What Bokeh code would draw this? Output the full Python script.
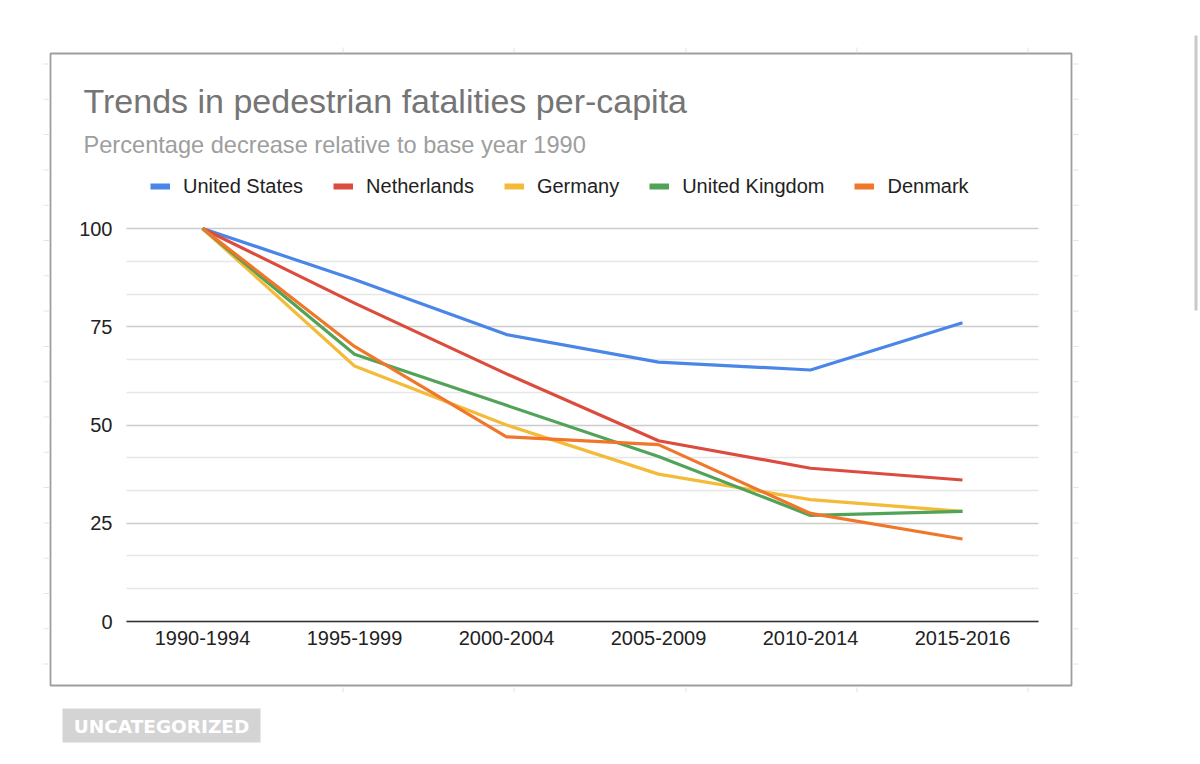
from bokeh.plotting import figure
from bokeh.models import (Range1d, FixedTicker, Legend, LegendItem, LinearAxis, Grid,
                          Label, BoxAnnotation, ColumnDataSource)
from bokeh.embed import file_html
from bokeh.resources import INLINE

# ---------------- data ----------------
periods = ["1990-1994", "1995-1999", "2000-2004", "2005-2009", "2010-2014", "2015-2016"]
united_states = [100, 87, 73, 66, 64, 76]
netherlands = [100, 81, 63, 46, 39, 36]
germany = [100, 65, 50, 37.5, 31, 28]
united_kingdom = [100, 68, 55, 42, 27, 28]
denmark = [100, 70, 47, 45, 27.5, 21]
y_ticks = [0, 25, 50, 75, 100]
y_minor_ticks = [8.33, 16.67, 33.33, 41.67, 58.33, 66.67, 83.33, 91.67]

series_names = ["United States", "Netherlands", "Germany", "United Kingdom", "Denmark"]
series_values = [united_states, netherlands, germany, united_kingdom, denmark]
series_colors = ["#4a86e8", "#db4c3f", "#f4bb39", "#51a457", "#f0762a"]

title_text = "Trends in pedestrian fatalities per-capita"
subtitle_text = "Percentage decrease relative to base year 1990"
tag_text = "UNCATEGORIZED"

FONT = "Liberation Sans"

# category positions: centre of each category slot
x_pos = [i + 0.5 for i in range(len(periods))]
n_cat = len(periods)

# ---------------- layout geometry (canvas pixels) ----------------
W, H = 1198, 746
DL, DR, DT, DB = 126, 1038, 228, 621        # data region left/right/top/bottom
ppx = (DR - DL) / n_cat                      # px per category
ppy = (DB - DT) / (y_ticks[-1] - y_ticks[0])  # px per y unit

x_range = Range1d(-DL / ppx, n_cat + (W - DR) / ppx)
y_range = Range1d(y_ticks[0] - (H - DB) / ppy, y_ticks[-1] + DT / ppy)

p = figure(width=W, height=H, x_range=x_range, y_range=y_range,
           output_backend="svg", toolbar_location=None,
           x_axis_location=None, y_axis_location=None,
           min_border_left=0, min_border_right=0, min_border_top=0, min_border_bottom=0)
p.outline_line_color = None
p.background_fill_color = "white"
p.border_fill_color = "white"
p.xgrid.visible = False
p.ygrid.visible = False

# axes drawn at fixed data locations inside the frame
yaxis = LinearAxis(fixed_location=0, bounds=(y_ticks[0], y_ticks[-1]),
                   ticker=FixedTicker(ticks=y_ticks, minor_ticks=y_minor_ticks))
yaxis.axis_line_color = None
yaxis.major_tick_line_color = None
yaxis.minor_tick_line_color = None
yaxis.major_label_standoff = 8
yaxis.major_label_text_font = FONT
yaxis.major_label_text_font_size = "20px"
yaxis.major_label_text_color = "#222222"
p.add_layout(yaxis, "left")

xaxis = LinearAxis(fixed_location=y_ticks[0], bounds=(0, n_cat),
                   ticker=FixedTicker(ticks=x_pos, minor_ticks=[]),
                   major_label_overrides={x: lab for x, lab in zip(x_pos, periods)})
xaxis.axis_line_color = "#333333"
xaxis.axis_line_width = 1.5
xaxis.major_tick_line_color = None
xaxis.minor_tick_line_color = None
xaxis.major_tick_out = 0
xaxis.major_tick_in = 0
xaxis.major_label_standoff = 9
xaxis.major_label_text_font = FONT
xaxis.major_label_text_font_size = "20px"
xaxis.major_label_text_color = "#222222"
p.add_layout(xaxis, "below")

# horizontal gridlines, limited to the data region
gprops = Grid.properties()
if "cross_bounds" in gprops:
    g = Grid(dimension=1, ticker=yaxis.ticker, bounds=(y_ticks[0], y_ticks[-1]),
             cross_bounds=(0, n_cat),
             grid_line_color="#cccccc", grid_line_width=1.3,
             minor_grid_line_color="#e6e6e6", minor_grid_line_width=1.3)
    p.add_layout(g)
else:
    p.segment(x0=[0] * len(y_minor_ticks), x1=[n_cat] * len(y_minor_ticks),
              y0=y_minor_ticks, y1=y_minor_ticks, line_color="#e6e6e6", line_width=1.3)
    p.segment(x0=[0] * len(y_ticks), x1=[n_cat] * len(y_ticks),
              y0=y_ticks, y1=y_ticks, line_color="#cccccc", line_width=1.3)

# lines
nan = float("nan")
legend_items = []
for name, vals, col in zip(series_names, series_values, series_colors):
    src = ColumnDataSource(dict(x=x_pos, y=vals))
    p.line("x", "y", source=src, line_color=col, line_width=3.2, line_join="round")
    # legend-only swatch renderer (draws nothing in the plot itself)
    swatch = p.line(x=[nan], y=[nan], line_color=col, line_width=6, line_cap="butt")
    legend_items.append(LegendItem(label=name, renderers=[swatch], index=0))

# frame == canvas, so screen units are canvas px (y measured up from bottom)
def sx(px):
    return px

def sy(py):
    return H - py

legend = Legend(items=legend_items, orientation="horizontal", location=(sx(150), sy(197.5)),
                glyph_width=20, glyph_height=20, label_standoff=13, spacing=30,
                padding=0, margin=0, border_line_color=None, background_fill_alpha=0,
                label_text_font=FONT, label_text_font_size="20px",
                label_text_color="#222222", label_height=20)
p.add_layout(legend)

def box(l, r, t, b, **kw):
    return BoxAnnotation(left=sx(l), right=sx(r), top=sy(t), bottom=sy(b),
                         left_units="screen", right_units="screen",
                         top_units="screen", bottom_units="screen", **kw)

# titles
p.add_layout(Label(x=sx(83), y=sy(100), x_units="screen", y_units="screen",
                   text=title_text, text_font=FONT, text_font_size="34px",
                   text_color="#757575", text_baseline="alphabetic"))
p.add_layout(Label(x=sx(83), y=sy(144.5), x_units="screen", y_units="screen",
                   text=subtitle_text, text_font=FONT, text_font_size="23.6px",
                   text_color="#9e9e9e", text_baseline="alphabetic"))

# chart card border
p.add_layout(box(50, 1071, 53, 685, fill_alpha=0, line_color="#9e9e9e", line_alpha=1,
                 line_width=1.8))

# faint page marks around the card
for mx in [342, 513, 685, 856, 1027]:
    for (y0, y1) in [(687, 692), (47, 52)]:
        p.add_layout(box(mx, mx + 1, y0, y1, fill_color="#e4e4e4", fill_alpha=1, line_alpha=0))
k = 0
while 63 + 35.3 * k < 684:
    my = 63 + 35.3 * k
    for (x0, x1) in [(43, 49), (1072, 1078)]:
        p.add_layout(box(x0, x1, my, my + 1, fill_color="#e4e4e4", fill_alpha=1, line_alpha=0))
    k += 1

# scrollbar-like line at right
p.add_layout(box(1194, 1197, 35, 310, fill_color="#c9c9c9", fill_alpha=1, line_alpha=0))

# category tag
p.add_layout(box(62, 260, 708, 742, fill_color="#d4d4d4", fill_alpha=1, line_alpha=0))
p.add_layout(Label(x=sx(161), y=sy(725.5), x_units="screen", y_units="screen",
                   text=tag_text, text_font="DejaVu Sans", text_font_style="bold",
                   text_font_size="18.5px", text_color="white",
                   text_align="center", text_baseline="middle"))

open("out.html", "w").write(file_html(p, INLINE))
